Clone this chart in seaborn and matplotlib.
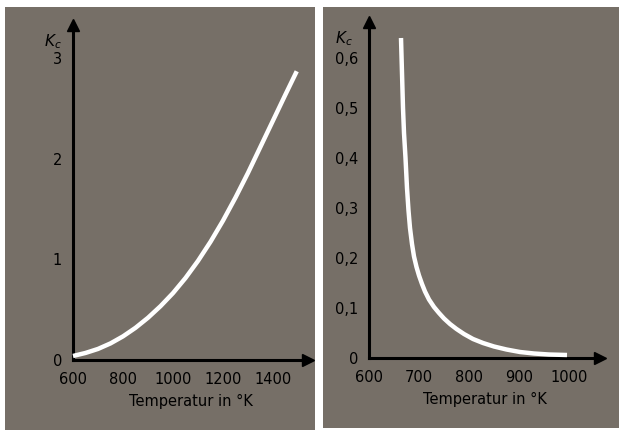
import numpy as np
import pandas as pd
import matplotlib
matplotlib.use("Agg")
import matplotlib.pyplot as plt
from matplotlib.patches import Rectangle
import seaborn as sns

# left panel: K_c rising with temperature
temp_left = [600, 650, 700, 750, 800, 850, 900, 950, 1000, 1050, 1100,
             1150, 1200, 1250, 1300, 1350, 1400, 1450, 1495]
kc_left = [0.04, 0.07, 0.11, 0.165, 0.235, 0.32, 0.42, 0.535, 0.665, 0.815, 0.985,
           1.175, 1.385, 1.615, 1.86, 2.12, 2.38, 2.64, 2.87]

# right panel: K_c falling with temperature
temp_right = [664, 666, 668, 670, 673, 676, 679, 682, 686, 690, 695, 700, 706,
              712, 720, 730, 740, 750, 762, 775, 790, 808, 828, 850, 875, 902,
              930, 960, 996]
kc_right = [0.64, 0.57, 0.50, 0.45, 0.40, 0.34, 0.295, 0.26, 0.228, 0.203, 0.182,
            0.165, 0.148, 0.133, 0.117, 0.102, 0.090, 0.079, 0.068, 0.058, 0.048,
            0.038, 0.030, 0.023, 0.017, 0.012, 0.009, 0.007, 0.006]

xticks_left = [600, 700, 800, 900, 1000, 1100, 1200, 1300, 1400]
xlabels_left = ["600", "", "800", "", "1000", "", "1200", "", "1400"]
yticks_left = [0, 1, 2, 3]
ylabels_left = ["0", "1", "2", "3"]

xticks_right = [600, 700, 800, 900, 1000]
xlabels_right = ["600", "700", "800", "900", "1000"]
yticks_right = [0, 0.1, 0.2, 0.3, 0.4, 0.5, 0.6]
ylabels_right = ["0", "0,1", "0,2", "0,3", "0,4", "0,5", "0,6"]

sns.set_style("white")
plt.rcParams['font.family'] = ['Liberation Sans Narrow', 'DejaVu Sans']

W, H = 619, 430
fig = plt.figure(figsize=(W / 100, H / 100), dpi=100)
fig.patch.set_facecolor("white")

bg = "#766f67"


def px_rect(x0, y0, x1, y1):
    return [x0 / W, (H - y1) / H, (x1 - x0) / W, (y1 - y0) / H]


# gray photo panels
for x0, y0, x1, y1 in [(5, 7, 315, 430), (323, 7, 619, 428)]:
    r = px_rect(x0, y0, x1, y1)
    fig.add_artist(Rectangle((r[0], r[1]), r[2], r[3], transform=fig.transFigure,
                             facecolor=bg, edgecolor="none", zorder=0))


def make_axes(rect, x, y, xlim, ylim, xticks, xlabels, yticks, ylabels, klabel_xy):
    ax = fig.add_axes(px_rect(*rect))
    ax.set_facecolor("none")
    df = pd.DataFrame({"T": x, "K": y})
    sns.lineplot(data=df, x="T", y="K", ax=ax, color="white", linewidth=3.2,
                 solid_capstyle="butt", solid_joinstyle="round", clip_on=False, zorder=3)
    ax.set_xlim(*xlim)
    ax.set_ylim(*ylim)
    for s in ["top", "right"]:
        ax.spines[s].set_visible(False)
    for s in ["left", "bottom"]:
        ax.spines[s].set_linewidth(2.2)
        ax.spines[s].set_color("black")
    ax.plot(1, 0, ">", color="black", markersize=8, transform=ax.transAxes, clip_on=False)
    ax.plot(0, 1, "^", color="black", markersize=8, transform=ax.transAxes, clip_on=False)
    ax.set_xticks(xticks)
    ax.set_xticklabels(xlabels)
    ax.set_yticks(yticks)
    ax.set_yticklabels(ylabels)
    ax.tick_params(direction="in", length=4.5, width=1.5, colors="black",
                   labelsize=10.5, pad=9)
    ax.tick_params(axis="y", pad=8)
    ax.set_xlabel("Temperatur in °K", fontsize=10.5, labelpad=5, color="black")
    ax.set_ylabel("")
    ax.text(klabel_xy[0], klabel_xy[1], "$K_c$", transform=ax.transAxes,
            ha="right", va="center", fontsize=11, color="black")
    return ax


make_axes((73, 25, 308, 360), temp_left, kc_left, (600, 1540), (0, 3.33),
          xticks_left, xlabels_left, yticks_left, ylabels_left, (-0.05, 0.95))
make_axes((369, 22, 600, 358), temp_right, kc_right, (600, 1062), (0, 0.672),
          xticks_right, xlabels_right, yticks_right, ylabels_right, (-0.07, 0.95))

fig.savefig("out.png", dpi=100)
